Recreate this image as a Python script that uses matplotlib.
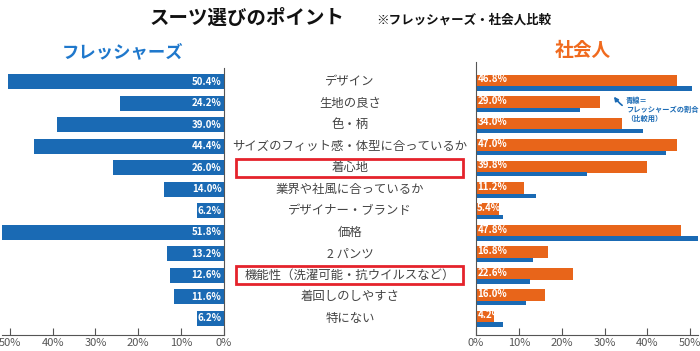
import matplotlib.pyplot as plt
from matplotlib.patches import Rectangle
import numpy as np

plt.rcParams['font.family'] = ['Noto Sans CJK JP', 'DejaVu Sans']

# data
categories = ['デザイン', '生地の良さ', '色・柄', 'サイズのフィット感・体型に合っているか',
              '着心地', '業界や社風に合っているか', 'デザイナー・ブランド', '価格',
              '2 パンツ', '機能性（洗濯可能・抗ウイルスなど）', '着回しのしやすさ', '特にない']
freshers = [50.4, 24.2, 39.0, 44.4, 26.0, 14.0, 6.2, 51.8, 13.2, 12.6, 11.6, 6.2]
workers = [46.8, 29.0, 34.0, 47.0, 39.8, 11.2, 5.4, 47.8, 16.8, 22.6, 16.0, 4.2]
ticks = [0, 10, 20, 30, 40, 50]
highlight = [4, 9]

blue = '#1a6ab4'
orange = '#e8651a'
gray = '#555555'

W, H = 700, 351
fig = plt.figure(figsize=(7, 3.51), dpi=100)

def px_axes(x0, x1, y_top, y_bot):
    return fig.add_axes([x0 / W, (H - y_bot) / H, (x1 - x0) / W, (y_bot - y_top) / H])

y = np.arange(len(categories))
ylim = (11.79, -0.65)

# left: freshers
axl = px_axes(2, 224, 68, 335)
axl.barh(y, freshers, height=0.7, color=blue)
axl.set_xlim(51.8, 0)
axl.set_ylim(*ylim)
for i, v in enumerate(freshers):
    axl.text(0.6, i, f'{v:.1f}%', ha='right', va='center', color='white',
             fontsize=7, fontweight='bold')

# right: workers with freshers as thin line
axr = px_axes(476, 698, 62, 335)
axr.barh(y - 0.06, workers, height=0.56, color=orange)
axr.barh(y + 0.3, freshers, height=0.2, color=blue)
axr.set_xlim(0, 51.8)
axr.set_ylim(11.79, -0.93)
for i, v in enumerate(workers):
    axr.text(0.3, i - 0.12, f'{v:.1f}%', ha='left', va='center', color='white',
             fontsize=7, fontweight='bold')

for ax in (axl, axr):
    ax.set_yticks([])
    ax.set_xticks(ticks)
    ax.set_xticklabels([f'{t}%' for t in ticks], color=gray, fontsize=8)
    ax.tick_params(axis='x', direction='in', length=5, color=gray, pad=2)
    for s in ax.spines.values():
        s.set_visible(False)
    ax.spines['bottom'].set_visible(True)
    ax.spines['bottom'].set_color(gray)
axl.spines['right'].set_visible(True)
axl.spines['right'].set_color(gray)
axr.spines['left'].set_visible(True)
axr.spines['left'].set_color(gray)

# middle: category labels
axm = px_axes(224, 476, 68, 335)
axm.set_xlim(0, 1)
axm.set_ylim(*ylim)
axm.axis('off')
for i, c in enumerate(categories):
    axm.text(0.5, i, c, ha='center', va='center', color='#444444', fontsize=8.9)
for i in highlight:
    axm.add_patch(Rectangle((0.048, i - 0.42), 0.9, 0.84, fill=False,
                            edgecolor='#e5232b', linewidth=2))

# annotation
axr.annotate('青線＝\nフレッシャーズの割合\n（比較用）', xy=(31.8, 0.58), xytext=(35, 1.28),
             color=blue, fontsize=5.2, fontweight='bold', ha='left', va='center',
             linespacing=1.3,
             arrowprops=dict(arrowstyle='-|>', color=blue, lw=1.2, mutation_scale=6,
                             shrinkA=1, connectionstyle='arc3,rad=-0.4'))

# titles
fig.text(247 / W, 1 - 18 / H, 'スーツ選びのポイント', ha='center', va='center',
         fontsize=14, fontweight='bold', color='#111111')
fig.text(464 / W, 1 - 20 / H, '※フレッシャーズ・社会人比較', ha='center', va='center',
         fontsize=9, fontweight='bold', color='#111111')
fig.text(123 / W, 1 - 52 / H, 'フレッシャーズ', ha='center', va='center',
         fontsize=12.5, fontweight='bold', color='#1f78cc')
fig.text(583 / W, 1 - 50 / H, '社会人', ha='center', va='center',
         fontsize=13.5, fontweight='bold', color='#f06a1e')

fig.savefig('out.png', dpi=100)
